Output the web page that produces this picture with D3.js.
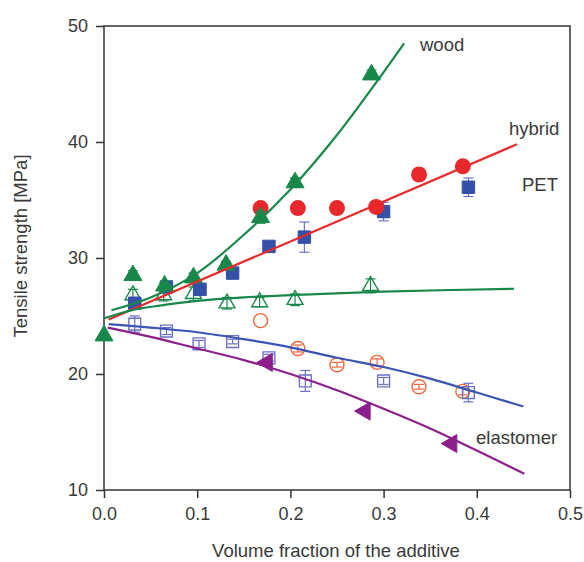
<!DOCTYPE html>
<meta charset="utf-8">
<style>
body { margin: 0; background: #fff; font-family: "Liberation Sans", Arial, Helvetica, sans-serif; }
.axis path, .axis line { stroke: #333; stroke-width: 1.5; }
.axis text { font-size: 18px; fill: #3a3a3a; font-family: "Liberation Sans", Arial, sans-serif; }
.title { font-size: 18.5px; fill: #3a3a3a; }
.fit { fill: none; stroke-width: 2.2; }
</style>
<svg width="584" height="562"></svg>
<script src="https://d3js.org/d3.v7.min.js"></script>
<script>

// measured points: [volume fraction, tensile strength, error]
var woodPts = [[0, 23.3, 0], [0.031, 28.5, 0.4], [0.065, 27.6, 0.3], [0.096, 28.3, 0.4],
               [0.131, 29.4, 0.3], [0.168, 33.5, 0.5], [0.205, 36.5, 0.4], [0.287, 45.8, 0.4]];
var hybridPts = [[0.168, 34.3, 0], [0.208, 34.3, 0], [0.25, 34.3, 0], [0.292, 34.4, 0],
                 [0.338, 37.2, 0], [0.385, 37.9, 0]];
var petPts = [[0.033, 26.1, 0.3], [0.067, 27.5, 0.3], [0.103, 27.3, 0.3], [0.138, 28.7, 0.2],
              [0.177, 31.0, 0.3], [0.215, 31.8, 1.3], [0.30, 34.0, 0.8], [0.391, 36.1, 0.8]];
var woodOpenPts = [[0.031, 26.8, 0.5], [0.064, 26.8, 0.5], [0.096, 26.9, 0.6], [0.132, 26.1, 0.5],
                   [0.167, 26.2, 0.4], [0.205, 26.4, 0.5], [0.286, 27.6, 0.6]];
var hybridOpenPts = [[0.168, 24.6, 0], [0.208, 22.2, 0.3], [0.25, 20.8, 0.2], [0.293, 21.0, 0.3],
                     [0.338, 18.9, 0.2], [0.385, 18.5, 0.3]];
var petOpenPts = [[0.033, 24.3, 0.7], [0.067, 23.7, 0.3], [0.102, 22.6, 0.3], [0.138, 22.8, 0.2],
                  [0.177, 21.4, 0.3], [0.216, 19.4, 0.9], [0.30, 19.4, 0.3], [0.391, 18.4, 0.8]];
var elastPts = [[0.175, 21.0], [0.28, 16.8], [0.373, 14.0]];

// fitted curves
var woodFit = [[0.008, 25.5], [0.05, 26.6], [0.1, 28.7], [0.15, 32.0], [0.2, 35.9],
               [0.25, 40.6], [0.29, 44.9], [0.322, 48.5]];
var hybridFit = [[0.005, 24.7], [0.443, 39.8]];
var flatFit = [[0.0, 24.8], [0.03, 25.5], [0.06, 25.9], [0.1, 26.3], [0.15, 26.6],
               [0.2, 26.8], [0.3, 27.1], [0.44, 27.35]];
var petOpenFit = [[0.005, 24.3], [0.05, 24.0], [0.1, 23.6], [0.15, 23.0], [0.2, 22.3],
                  [0.25, 21.4], [0.3, 20.6], [0.35, 19.6], [0.4, 18.4], [0.45, 17.2]];
var elastFit = [[0.004, 24.0], [0.05, 23.2], [0.1, 22.2], [0.15, 21.2], [0.2, 20.0],
                [0.25, 18.6], [0.3, 17.0], [0.35, 15.3], [0.4, 13.4], [0.451, 11.4]];

var xTicks = [0, 0.1, 0.2, 0.3, 0.4, 0.5];
var yTicks = [10, 20, 30, 40, 50];

var svg = d3.select("svg");
var x = d3.scaleLinear().domain([0, 0.5]).range([104, 570]);
var y = d3.scaleLinear().domain([10, 50]).range([490, 26]);

var green = "#17884a", red = "#e8282b", blue = "#3550a8", lblue = "#6b70c6",
    orange = "#f0683c", purple = "#8c1f8c", blueLine = "#3a55b4";

// frame
svg.append("rect").attr("x", x(0)).attr("y", y(50))
  .attr("width", x(0.5) - x(0)).attr("height", y(10) - y(50))
  .attr("fill", "none").attr("stroke", "#333").attr("stroke-width", 1.5);

svg.append("g").attr("class", "axis")
  .attr("transform", "translate(0," + y(10) + ")")
  .call(d3.axisBottom(x).tickValues(xTicks).tickFormat(d3.format(".1f")).tickSize(8).tickPadding(9));

svg.append("g").attr("class", "axis")
  .attr("transform", "translate(" + x(0) + ",0)")
  .call(d3.axisLeft(y).tickValues(yTicks).tickSize(8).tickPadding(8));

svg.selectAll(".axis .domain").remove();

svg.append("text").attr("class", "title")
  .attr("x", 336).attr("y", 557).attr("text-anchor", "middle")
  .text("Volume fraction of the additive");

svg.append("text").attr("class", "title")
  .attr("transform", "translate(27,246) rotate(-90)")
  .attr("text-anchor", "middle")
  .text("Tensile strength [MPa]");

// error bars
function errBars(data, color) {
  var g = svg.append("g").attr("stroke", color).attr("stroke-width", 1.2);
  data.filter(function(d) { return d[2] > 0; }).forEach(function(d) {
    var cx = x(d[0]);
    g.append("line").attr("x1", cx).attr("x2", cx).attr("y1", y(d[1] - d[2])).attr("y2", y(d[1] + d[2]));
    g.append("line").attr("x1", cx - 5).attr("x2", cx + 5).attr("y1", y(d[1] - d[2])).attr("y2", y(d[1] - d[2]));
    g.append("line").attr("x1", cx - 5).attr("x2", cx + 5).attr("y1", y(d[1] + d[2])).attr("y2", y(d[1] + d[2]));
  });
}

function symbols(data, type, size, color, filled, rot) {
  svg.append("g").selectAll("path").data(data).enter().append("path")
    .attr("d", d3.symbol().type(type).size(size))
    .attr("transform", function(d) { return "translate(" + x(d[0]) + "," + y(d[1]) + ")" + (rot ? " rotate(" + rot + ")" : ""); })
    .attr("fill", filled ? color : "none")
    .attr("stroke", color)
    .attr("stroke-width", filled ? 1 : 1.4);
}

errBars(woodOpenPts, green);
symbols(woodOpenPts, d3.symbolTriangle, 110, green, false);

errBars(hybridOpenPts, orange);
svg.append("g").selectAll("circle").data(hybridOpenPts).enter().append("circle")
  .attr("cx", function(d) { return x(d[0]); })
  .attr("cy", function(d) { return y(d[1]); })
  .attr("r", 7).attr("fill", "none").attr("stroke", orange).attr("stroke-width", 1.4);

errBars(petOpenPts, lblue);
symbols(petOpenPts, d3.symbolSquare, 140, lblue, false);

errBars(petPts, lblue);
symbols(petPts, d3.symbolSquare, 155, blue, true);

svg.append("g").selectAll("circle").data(hybridPts).enter().append("circle")
  .attr("cx", function(d) { return x(d[0]); })
  .attr("cy", function(d) { return y(d[1]); })
  .attr("r", 8).attr("fill", red);

errBars(woodPts, green);
symbols(woodPts, d3.symbolTriangle, 140, green, true);

symbols(elastPts, d3.symbolTriangle, 140, purple, true, -90);

// fitted curves
var line = d3.line()
  .curve(d3.curveCatmullRom)
  .x(function(d) { return x(d[0]); })
  .y(function(d) { return y(d[1]); });

[[woodFit, green], [hybridFit, red], [flatFit, green], [petOpenFit, blueLine], [elastFit, purple]]
  .forEach(function(s) {
    svg.append("path").attr("class", "fit").datum(s[0]).attr("stroke", s[1]).attr("d", line);
  });

// curve labels
var labels = [["wood", 420, 51], ["hybrid", 509, 135], ["PET", 522, 191], ["elastomer", 476, 444]];
svg.append("g").selectAll("text").data(labels).enter().append("text")
  .attr("class", "title")
  .attr("x", function(d) { return d[1]; })
  .attr("y", function(d) { return d[2]; })
  .text(function(d) { return d[0]; });

</script>
